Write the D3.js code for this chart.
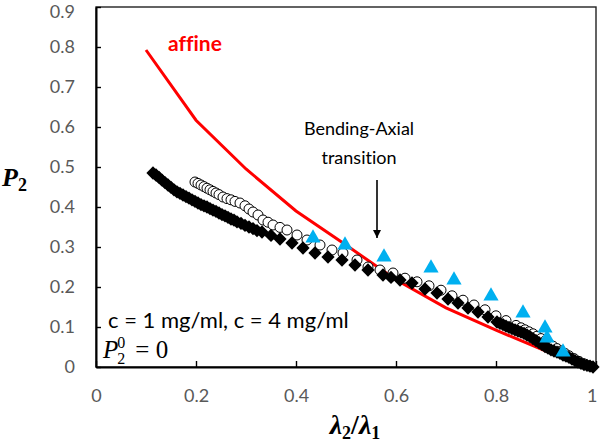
<!DOCTYPE html>
<html><head><meta charset="utf-8">
<script src="https://cdn.jsdelivr.net/npm/d3@7/dist/d3.min.js"></script>
<style>body{margin:0;background:#fff}svg{display:block}text{font-variant-ligatures:none}</style>
</head><body>
<svg id="chart" width="600" height="446"></svg>
<script>
// ---- data ----
const xTickValues = [0, 0.2, 0.4, 0.6, 0.8, 1];
const yTickValues = [0, 0.1, 0.2, 0.3, 0.4, 0.5, 0.6, 0.7, 0.8, 0.9];

const affine = [[0.1,0.7925],[0.2,0.617],[0.3,0.495],[0.4,0.39],[0.5,0.305],[0.6,0.218],
  [0.7,0.148],[0.8,0.092],[0.85,0.066],[0.9,0.04],[0.95,0.018],[1.0,0.0]];

const diamonds = [[0.114,0.485],[0.120,0.480],[0.126,0.474],[0.132,0.467],[0.138,0.461],[0.144,0.455],
  [0.150,0.449],[0.156,0.443],[0.162,0.438],[0.168,0.434],[0.174,0.430],[0.180,0.426],[0.186,0.422],
  [0.192,0.418],[0.198,0.414],[0.204,0.410],[0.210,0.406],[0.216,0.403],[0.222,0.400],[0.228,0.396],
  [0.234,0.392],[0.240,0.389],[0.246,0.385],[0.252,0.381],[0.258,0.378],[0.264,0.374],[0.270,0.370],
  [0.276,0.367],[0.282,0.363],[0.290,0.359],[0.298,0.354],[0.306,0.350],[0.314,0.346],[0.322,0.341],
  [0.332,0.3375],[0.350,0.329],[0.368,0.320],[0.392,0.310],[0.414,0.2975],[0.438,0.285],[0.464,0.275],
  [0.492,0.2675],[0.518,0.255],[0.544,0.2425],[0.574,0.230],[0.590,0.224],[0.608,0.2175],[0.632,0.210],
  [0.658,0.195],[0.682,0.185],[0.704,0.170],[0.724,0.160],[0.744,0.1475],[0.764,0.1375],[0.784,0.125],
  [0.802,0.1125],[0.808,0.109],[0.814,0.106],[0.820,0.102],[0.826,0.099],[0.832,0.096],[0.838,0.093],
  [0.844,0.090],[0.850,0.087],[0.856,0.084],[0.862,0.080],[0.868,0.076],[0.874,0.071],[0.880,0.066],
  [0.886,0.061],[0.892,0.056],[0.898,0.051],[0.904,0.047],[0.910,0.043],[0.916,0.040],[0.922,0.037],
  [0.928,0.034],[0.934,0.030],[0.940,0.027],[0.946,0.024],[0.952,0.020],[0.958,0.016],[0.964,0.012],
  [0.970,0.009],[0.976,0.006],[0.982,0.004],[0.988,0.002],[0.994,0.000]];

const circles = [[0.198,0.4625],[0.204,0.459],[0.210,0.455],[0.216,0.451],[0.222,0.447],[0.228,0.443],
  [0.234,0.439],[0.240,0.435],[0.246,0.431],[0.254,0.425],[0.262,0.421],[0.270,0.418],[0.278,0.414],
  [0.288,0.410],[0.298,0.403],[0.306,0.395],[0.314,0.3875],[0.324,0.380],[0.334,0.3675],[0.344,0.362],
  [0.354,0.355],[0.368,0.349],[0.382,0.3425],[0.402,0.330],[0.422,0.3175],[0.448,0.305],[0.472,0.2925],
  [0.494,0.285],[0.522,0.2675],[0.544,0.250],[0.568,0.2425],[0.594,0.235],[0.618,0.222],[0.642,0.213],
  [0.666,0.203],[0.690,0.192],[0.712,0.178],[0.734,0.167],[0.756,0.155],[0.778,0.143],[0.800,0.128],
  [0.820,0.116],[0.840,0.104],[0.850,0.098],[0.858,0.093],[0.866,0.088],[0.874,0.083],[0.882,0.077],
  [0.890,0.071],[0.898,0.065],[0.906,0.058],[0.914,0.052],[0.922,0.046],[0.930,0.040],[0.938,0.034],
  [0.946,0.028],[0.956,0.021],[0.966,0.014],[0.976,0.008],[0.986,0.003]];

const triangles = [[0.434,0.3225],[0.498,0.305],[0.576,0.275],[0.670,0.2475],[0.716,0.2175],
  [0.790,0.1775],[0.854,0.135],[0.898,0.0975],[0.902,0.0725],[0.934,0.0375]];

const arrowX = 0.562, arrowFrom = 0.4675, arrowTo = 0.3225;

// ---- drawing ----
const svg = d3.select("#chart");
const x = d3.scaleLinear().domain([0,1]).range([96,596]);
const y = d3.scaleLinear().domain([0,0.9]).range([367,7]);
const sans = "Lato, 'Open Sans', sans-serif";
const serif = "'Liberation Serif', 'DejaVu Serif', serif";

// frame
svg.append("rect").attr("x",x(0)).attr("y",y(0.9)).attr("width",x(1)-x(0)).attr("height",y(0)-y(0.9))
  .attr("fill","none").attr("stroke","#222").attr("stroke-width",1.4);

const xAxis = svg.append("g").attr("transform",`translate(0,${y(0)})`)
  .call(d3.axisBottom(x).tickValues(xTickValues).tickFormat(d=>String(d)).tickSizeInner(-6).tickSizeOuter(0).tickPadding(22));
const yAxis = svg.append("g").attr("transform",`translate(${x(0)},0)`)
  .call(d3.axisLeft(y).tickValues(yTickValues).tickFormat(d=>String(d)).tickSizeInner(-5).tickSizeOuter(0).tickPadding(21));
[xAxis,yAxis].forEach(g=>{
  g.select(".domain").attr("stroke","#000").attr("stroke-width",2);
  g.selectAll(".tick line").attr("stroke","#000").attr("stroke-width",1.4);
  g.selectAll(".tick text").attr("fill","#595959").style("font-family",sans).style("font-size","18px");
});
yAxis.selectAll(".tick text").filter(d=>d===0.9).attr("dy","0.6em");
xAxis.selectAll(".tick text").filter(d=>d===1).attr("text-anchor","end").attr("dx","1");

// affine line
svg.append("path").datum(affine)
  .attr("d", d3.line().x(d=>x(d[0])).y(d=>y(d[1])))
  .attr("fill","none").attr("stroke","#f00").attr("stroke-width",3);

// open circles
svg.append("g").selectAll("circle").data(circles).join("circle")
  .attr("cx",d=>x(d[0])).attr("cy",d=>y(d[1])).attr("r",5)
  .attr("fill","#fff").attr("stroke","#000").attr("stroke-width",1);

// filled diamonds (rotated squares)
const sq = d3.symbol().type(d3.symbolSquare).size(88);
svg.append("g").selectAll("path").data(diamonds).join("path")
  .attr("d",sq).attr("transform",d=>`translate(${x(d[0])},${y(d[1])}) rotate(45)`)
  .attr("fill","#000");

// triangles
const tri = d3.symbol().type(d3.symbolTriangle).size(100);
svg.append("g").selectAll("path").data(triangles).join("path")
  .attr("d",tri).attr("transform",d=>`translate(${x(d[0])},${y(d[1])})`)
  .attr("fill","#00B0F0");

// annotations
svg.append("text").attr("x",168).attr("y",51).text("affine")
  .attr("fill","#f00").style("font-family",sans).style("font-weight","bold").style("font-size","21px");

const ann = svg.append("text").style("font-family",sans).style("font-size","18px").attr("fill","#000")
  .attr("text-anchor","middle");
ann.append("tspan").attr("x",359).attr("y",135).text("Bending-Axial");
ann.append("tspan").attr("x",359).attr("y",164).text("transition");

svg.append("defs").append("marker").attr("id","ah").attr("viewBox","0 0 10 10").attr("refX",10).attr("refY",5)
  .attr("markerWidth",5).attr("markerHeight",5).attr("orient","auto")
  .append("path").attr("d","M0,0 L10,5 L0,10 z").attr("fill","#000");
svg.append("line").attr("x1",x(arrowX)).attr("x2",x(arrowX)).attr("y1",y(arrowFrom)).attr("y2",y(arrowTo))
  .attr("stroke","#000").attr("stroke-width",1.6).attr("marker-end","url(#ah)");

svg.append("text").attr("x",108).attr("y",328).text("c = 1 mg/ml, c = 4 mg/ml")
  .attr("fill","#000").style("font-family",sans).style("font-size","22px");

// P2^0 = 0
const p = svg.append("text").attr("x",103).attr("y",358).style("font-family",serif).style("font-size","25px").attr("fill","#000");
p.append("tspan").style("font-style","italic").text("P");
p.append("tspan").attr("dx",-1).attr("dy",-10).style("font-size","16px").text("0");
p.append("tspan").attr("dx",-8).attr("dy",16).style("font-size","16px").text("2");
p.append("tspan").attr("dx",10).attr("dy",-6).text("= 0");

// y label
const yl = svg.append("text").attr("x",2).attr("y",186).style("font-family",serif).style("font-weight","bold").style("font-size","26px");
yl.append("tspan").style("font-style","italic").text("P");
yl.append("tspan").attr("dy",5).style("font-size","18px").text("2");

// x label
const xl = svg.append("text").attr("x",355).attr("y",434).attr("text-anchor","middle").style("font-family",serif).style("font-weight","bold").style("font-size","28px");
xl.append("tspan").style("font-style","italic").text("λ");
xl.append("tspan").attr("dy",5).style("font-size","18px").text("2");
xl.append("tspan").attr("dy",-5).text("/");
xl.append("tspan").style("font-style","italic").text("λ");
xl.append("tspan").attr("dy",5).style("font-size","18px").text("1");
</script>
</body></html>
